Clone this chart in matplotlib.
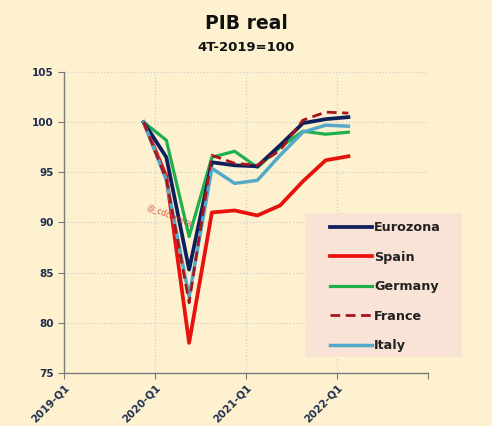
import matplotlib
matplotlib.use('Agg')
import matplotlib.pyplot as plt
from matplotlib.patches import Rectangle

quarters = ['2019-Q4', '2020-Q1', '2020-Q2', '2020-Q3', '2020-Q4',
            '2021-Q1', '2021-Q2', '2021-Q3', '2021-Q4', '2022-Q1']
x_first = 3  # 2019-Q4 is the 4th category from 2019-Q1

eurozona = [100, 96.5, 85.3, 96.0, 95.7, 95.6, 97.7, 99.9, 100.3, 100.5]
spain = [100, 94.6, 78.0, 91.0, 91.2, 90.7, 91.7, 94.1, 96.2, 96.6]
germany = [100, 98.2, 88.6, 96.5, 97.1, 95.5, 97.5, 99.1, 98.8, 99.0]
france = [100, 94.3, 82.0, 96.7, 95.9, 95.7, 97.2, 100.2, 101.0, 100.9]
italy = [100, 94.2, 82.6, 95.4, 93.9, 94.2, 96.7, 99.0, 99.7, 99.6]

tick_labels = ['2019-Q1', '2020-Q1', '2021-Q1', '2022-Q1', '']
y_ticks = [75, 80, 85, 90, 95, 100, 105]

BG = '#fdf1d0'
TXT = '#1f2d4f'

fig = plt.figure(figsize=(4.92, 4.26), dpi=100, facecolor=BG)
ax = fig.add_axes([0.130, 0.1244, 0.740, 0.7066], facecolor=BG)

xs = [x_first + i + 0.5 for i in range(len(quarters))]
ax.plot(xs, eurozona, color='#0d1f5c', lw=2.7, label='Eurozona', zorder=5)
ax.plot(xs, spain, color='#e8120c', lw=2.7, label='Spain', zorder=3)
ax.plot(xs, germany, color='#1fb04c', lw=2.3, label='Germany', zorder=4)
ax.plot(xs, france, color='#a8141a', lw=2.0, ls=(0, (3.5, 2)), label='France', zorder=7)
ax.plot(xs, italy, color='#55a9c8', lw=2.5, label='Italy', zorder=6)

ax.set_xlim(0, 16)
ax.set_ylim(75, 105)
ax.set_xticks([0, 4, 8, 12, 16])
ax.set_xticklabels(tick_labels, rotation=45, ha='right', rotation_mode='anchor',
                   fontsize=7.5, fontweight='bold', color=TXT)
ax.set_yticks(y_ticks)
ax.set_yticklabels([str(v) for v in y_ticks], fontsize=7.5, fontweight='bold', color=TXT)
ax.tick_params(axis='both', direction='out', length=4, color='#7a7a7a', width=0.8)
ax.tick_params(axis='x', pad=3)

ax.grid(True, ls=':', color='#cfd0cc', lw=0.9)
ax.set_axisbelow(True)
for side in ['top', 'right']:
    ax.spines[side].set_visible(False)
for side in ['left', 'bottom']:
    ax.spines[side].set_color('#7a7a7a')
    ax.spines[side].set_linewidth(1.0)

fig.text(0.5, 0.945, 'PIB real', ha='center', va='center', fontsize=13.5,
         fontweight='bold', color='#111111')
fig.text(0.5, 0.888, '4T-2019=100', ha='center', va='center', fontsize=9.5,
         fontweight='bold', color='#111111')

ax.text(3.6, 91.4, '@_cdcarrera', color='#d0302a', fontsize=5.5, alpha=0.8,
        rotation=-22, rotation_mode='anchor', zorder=8)

# legend background box (extends past the plot area as in the original)
ax.add_patch(Rectangle((0.620, 0.162), 0.319, 0.338, transform=fig.transFigure,
                       facecolor='#f9e2d6', edgecolor='none', zorder=9, clip_on=False))
leg = ax.legend(loc='upper left', bbox_to_anchor=(0.671, 0.481),
                bbox_transform=fig.transFigure, frameon=False,
                handlelength=3.3, handletextpad=0.15, borderpad=0,
                borderaxespad=0, labelspacing=1.29,
                prop={'weight': 'bold', 'size': 9.2})
leg.set_zorder(10)
for t in leg.get_texts():
    t.set_color('#222222')

fig.savefig('out.png', dpi=100, facecolor=BG)
